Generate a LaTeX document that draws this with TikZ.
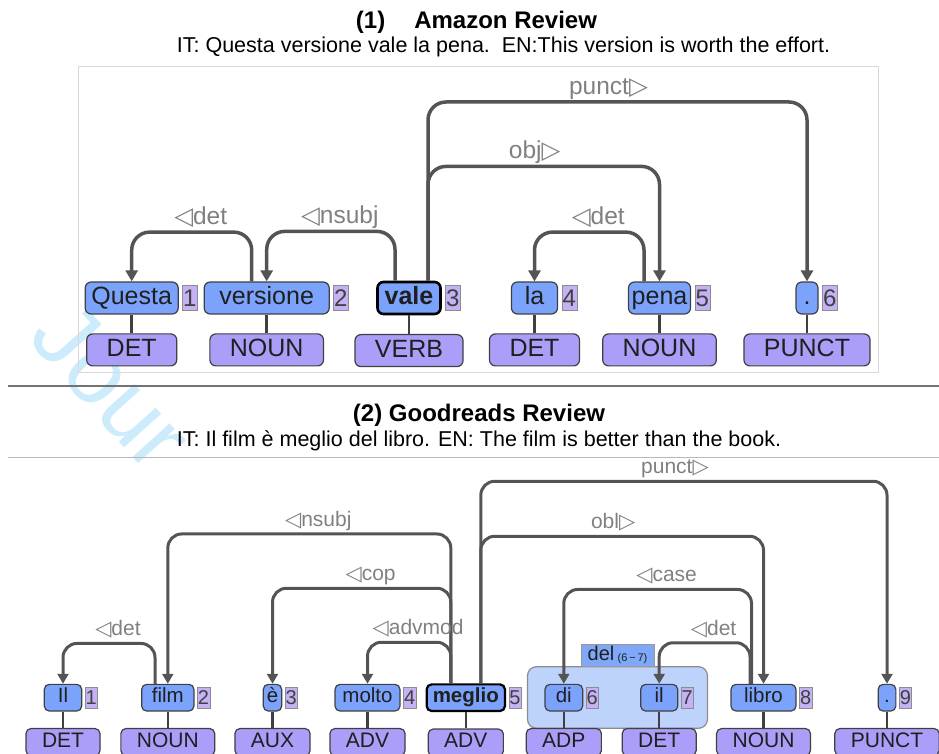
\documentclass[tikz,border=0pt]{standalone}
\usepackage{fontspec}
\setmainfont{Liberation Sans}
\newfontfamily\symfont{DejaVu Sans}
\usetikzlibrary{positioning, arrows.meta}

\definecolor{wordblue}{RGB}{124,163,251}
\definecolor{posviolet}{RGB}{170,158,248}
\definecolor{idxviolet}{RGB}{196,178,245}
\definecolor{grpblue}{RGB}{190,211,252}
\definecolor{tabblue}{RGB}{128,168,248}
\definecolor{arcgray}{RGB}{84,84,84}
\definecolor{lblgray}{RGB}{128,128,128}
\definecolor{wmcyan}{RGB}{204,236,252}

\begin{document}
\begin{tikzpicture}[x=1pt, y=1pt]
    \tikzstyle{wordA} = [rectangle, rounded corners=6pt, draw=black!75, line width=1.2pt, fill=wordblue, text=black!88, inner sep=1pt, minimum height=32pt, text height=18pt, text depth=5pt, font=\fontsize{25}{25}\selectfont]
    \tikzstyle{posA} = [rectangle, rounded corners=6pt, draw=black!75, line width=1.2pt, fill=posviolet, text=black!88, inner xsep=20pt, inner ysep=0pt, minimum height=32pt, text height=18pt, text depth=5pt, font=\fontsize{25}{25}\selectfont]
    \tikzstyle{idxA} = [rectangle, draw=black!45, fill=idxviolet, text=black!75, inner sep=0pt, minimum width=15pt, minimum height=25pt, font=\fontsize{24}{24}\selectfont]
    \tikzstyle{headA} = [line width=2.6pt, draw=black]
    \tikzstyle{wordB} = [wordA, rounded corners=5pt, minimum height=26.7pt, text height=15pt, text depth=4.5pt, font=\fontsize{20.5}{20.5}\selectfont]
    \tikzstyle{posB} = [posA, rounded corners=5pt, inner xsep=16pt, minimum height=27pt, text height=15pt, text depth=4.5pt, font=\fontsize{21}{21}\selectfont]
    \tikzstyle{idxB} = [idxA, minimum width=12.4pt, minimum height=21.6pt, font=\fontsize{20}{20}\selectfont]
    \tikzstyle{headB} = [line width=2.2pt, draw=black]
    \tikzstyle{stem} = [draw=black!75, line width=2.6pt]
    \tikzstyle{arcA} = [draw=arcgray, line width=3.5pt, rounded corners=18pt, -{Triangle[length=11pt,width=12pt]}]
    \tikzstyle{arcB} = [draw=arcgray, line width=3pt, rounded corners=14pt, -{Triangle[length=10pt,width=11pt]}]
    \tikzstyle{lblA} = [text=lblgray, anchor=base, yshift=7.5pt, inner sep=0pt, font=\fontsize{24.5}{24.5}\selectfont]
    \tikzstyle{lblB} = [lblA, font=\fontsize{21}{21}\selectfont]
    \tikzstyle{toL} = [xshift=9pt]
    \tikzstyle{toR} = [xshift=-9pt]
    \useasboundingbox (0,0) rectangle (939,753);

    % watermark
    \node (wmark) [rotate=-48, text=wmcyan, font=\fontsize{95}{95}\selectfont] at (112,367) {Jour};

    % (1) Amazon review
    \node (titleA) [anchor=base, font=\fontsize{24}{24}\selectfont\bfseries] at (476.5,724) {(1)\hspace{29pt}Amazon Review};
    \node (subA) [anchor=base, font=\fontsize{21.5}{21.5}\selectfont] at (503.5,700) {IT: Questa versione vale la pena.~~EN:This version is worth the effort.};
    \draw[black!15, line width=1pt] (78,686) rectangle (878,380);

    \node (questa) [wordA, minimum width=93pt] at (131.7,455) {Questa};
    \node (versione) [wordA, minimum width=125pt] at (266.7,455) {versione};
    \node (vale) [wordA, headA, minimum width=63pt] at (409,455) {\bfseries vale};
    \node (la) [wordA, minimum width=46pt] at (534.5,455) {la};
    \node (pena) [wordA, minimum width=62pt] at (659.5,455) {pena};
    \node (dotA) [wordA, minimum width=22pt] at (807,455) {.};

    \node (questa-i) [idxA, right=3.4pt of questa] {1};
    \node (versione-i) [idxA, right=3.4pt of versione] {2};
    \node (vale-i) [idxA, right=3.4pt of vale] {3};
    \node (la-i) [idxA, right=3.4pt of la] {4};
    \node (pena-i) [idxA, right=3.4pt of pena] {5};
    \node (dotA-i) [idxA, right=3.4pt of dotA] {6};

    \node (questa-p) [posA, below=18.7pt of questa] {DET};
    \node (versione-p) [posA, below=18.7pt of versione] {NOUN};
    \node (vale-p) [posA, below=18.7pt of vale] {VERB};
    \node (la-p) [posA, below=18.7pt of la] {DET};
    \node (pena-p) [posA, below=18.7pt of pena] {NOUN};
    \node (dotA-p) [posA, below=18.7pt of dotA] {PUNCT};

    \foreach \w in {questa, versione, vale, la, pena, dotA}
        \draw[stem] (\w) -- (\w-p);

    \draw[arcA] ([xshift=-15pt]versione.north) -- ++(0,49.3) -| node[lblA, toL, pos=0.25] {{\symfont ◁}det} (questa.north);
    \draw[arcA] ([xshift=-14pt]vale.north) -- ++(0,49.3) -| node[lblA, toL, pos=0.25] {{\symfont ◁}nsubj} (versione.north);
    \draw[arcA] ([xshift=19pt]vale.north) -- ++(0,114.3) -| node[lblA, toR, pos=0.25] {obj{\symfont ▷}} (pena.north);
    \draw[arcA] ([xshift=19pt]vale.north) -- ++(0,178.7) -| node[lblA, toR, pos=0.25] {punct{\symfont ▷}} (dotA.north);
    \draw[arcA] ([xshift=-15.5pt]pena.north) -- ++(0,49.3) -| node[lblA, toL, pos=0.25] {{\symfont ◁}det} (la.north);

    \draw[black!55, line width=2pt] (8,366.5) -- (939,366.5);

    % (2) Goodreads review
    \node (titleB) [anchor=base, font=\fontsize{24}{24}\selectfont\bfseries] at (479,331) {(2) Goodreads Review};
    \node (subB) [anchor=base, font=\fontsize{21.5}{21.5}\selectfont] at (479,306) {IT: Il film è meglio del libro. EN: The film is better than the book.};
    \draw[black!28, line width=1pt] (8,296) -- (939,296);

    \node (delbox) [rectangle, rounded corners=9pt, draw=black!45, line width=1.2pt, fill=grpblue, minimum width=180pt, minimum height=61.6pt] at (617.5,55.5) {};
    \node (deltab) [rectangle, draw=black!40, fill=tabblue, text=black!88, inner sep=0pt, minimum width=73.3pt, minimum height=21.7pt, above=0pt of delbox, font=\fontsize{20}{20}\selectfont] {del\,\raisebox{-1pt}{\fontsize{11}{11}\selectfont(6\,−\,7)}};

    \node (il1) [wordB, minimum width=37.4pt] at (63,55.3) {Il};
    \node (film) [wordB, minimum width=52.3pt] at (167.8,55.3) {film};
    \node (e3) [wordB, minimum width=18.4pt] at (272.5,55.3) {è};
    \node (molto) [wordB, minimum width=65pt] at (367.5,55.3) {molto};
    \node (meglio) [wordB, headB, minimum width=78.3pt] at (465.8,55.3) {\bfseries meglio};
    \node (di) [wordB, minimum width=37.7pt] at (563.8,55.3) {di};
    \node (il7) [wordB, minimum width=37pt] at (659.2,55.3) {il};
    \node (libro) [wordB, minimum width=65pt] at (763.5,55.3) {libro};
    \node (dotB) [wordB, minimum width=17.7pt] at (887,55.3) {.};

    \node (il1-i) [idxB, right=2.6pt of il1] {1};
    \node (film-i) [idxB, right=2.6pt of film] {2};
    \node (e3-i) [idxB, right=2.6pt of e3] {3};
    \node (molto-i) [idxB, right=2.6pt of molto] {4};
    \node (meglio-i) [idxB, right=2.6pt of meglio] {5};
    \node (di-i) [idxB, right=2.6pt of di] {6};
    \node (il7-i) [idxB, right=2.6pt of il7] {7};
    \node (libro-i) [idxB, right=2.6pt of libro] {8};
    \node (dotB-i) [idxB, right=2.6pt of dotB] {9};

    \node (il1-p) [posB, below=16.3pt of il1] {DET};
    \node (film-p) [posB, below=16.3pt of film] {NOUN};
    \node (e3-p) [posB, below=16.3pt of e3] {AUX};
    \node (molto-p) [posB, below=16.3pt of molto] {ADV};
    \node (meglio-p) [posB, below=16.3pt of meglio] {ADV};
    \node (di-p) [posB, below=16.3pt of di] {ADP};
    \node (il7-p) [posB, below=16.3pt of il7] {DET};
    \node (libro-p) [posB, below=16.3pt of libro] {NOUN};
    \node (dotB-p) [posB, below=16.3pt of dotB] {PUNCT};

    \foreach \w in {il1, film, e3, molto, meglio, di, il7, libro, dotB}
        \draw[stem, line width=2.2pt] (\w) -- (\w-p);

    \draw[arcB] ([xshift=-12.8pt]film.north) -- ++(0,40.3) -| node[lblB, toL, pos=0.25] {{\symfont ◁}det} (il1.north);
    \draw[arcB] ([xshift=-15pt]meglio.north) -- ++(0,149.3) -| node[lblB, toL, pos=0.25] {{\symfont ◁}nsubj} (film.north);
    \draw[arcB] ([xshift=-15pt]meglio.north) -- ++(0,95) -| node[lblB, toL, pos=0.25] {{\symfont ◁}cop} (e3.north);
    \draw[arcB] ([xshift=-15pt]meglio.north) -- ++(0,41) -| node[lblB, toL, pos=0.25] {{\symfont ◁}advmod} (molto.north);
    \draw[arcB] ([xshift=15pt]meglio.north) -- ++(0,202) -| node[lblB, toR, pos=0.25] {punct{\symfont ▷}} (dotB.north);
    \draw[arcB] ([xshift=15pt]meglio.north) -- ++(0,147) -| node[lblB, toR, pos=0.25] {obl{\symfont ▷}} (libro.north);
    \draw[arcB] ([xshift=-12pt]libro.north) -- ++(0,94.3) -| node[lblB, toL, pos=0.25] {{\symfont ◁}case} (di.north);
    \draw[arcB] ([xshift=-13.5pt]libro.north) -- ++(0,41) -| node[lblB, toL, pos=0.25] {{\symfont ◁}det} (il7.north);
\end{tikzpicture}
\end{document}
